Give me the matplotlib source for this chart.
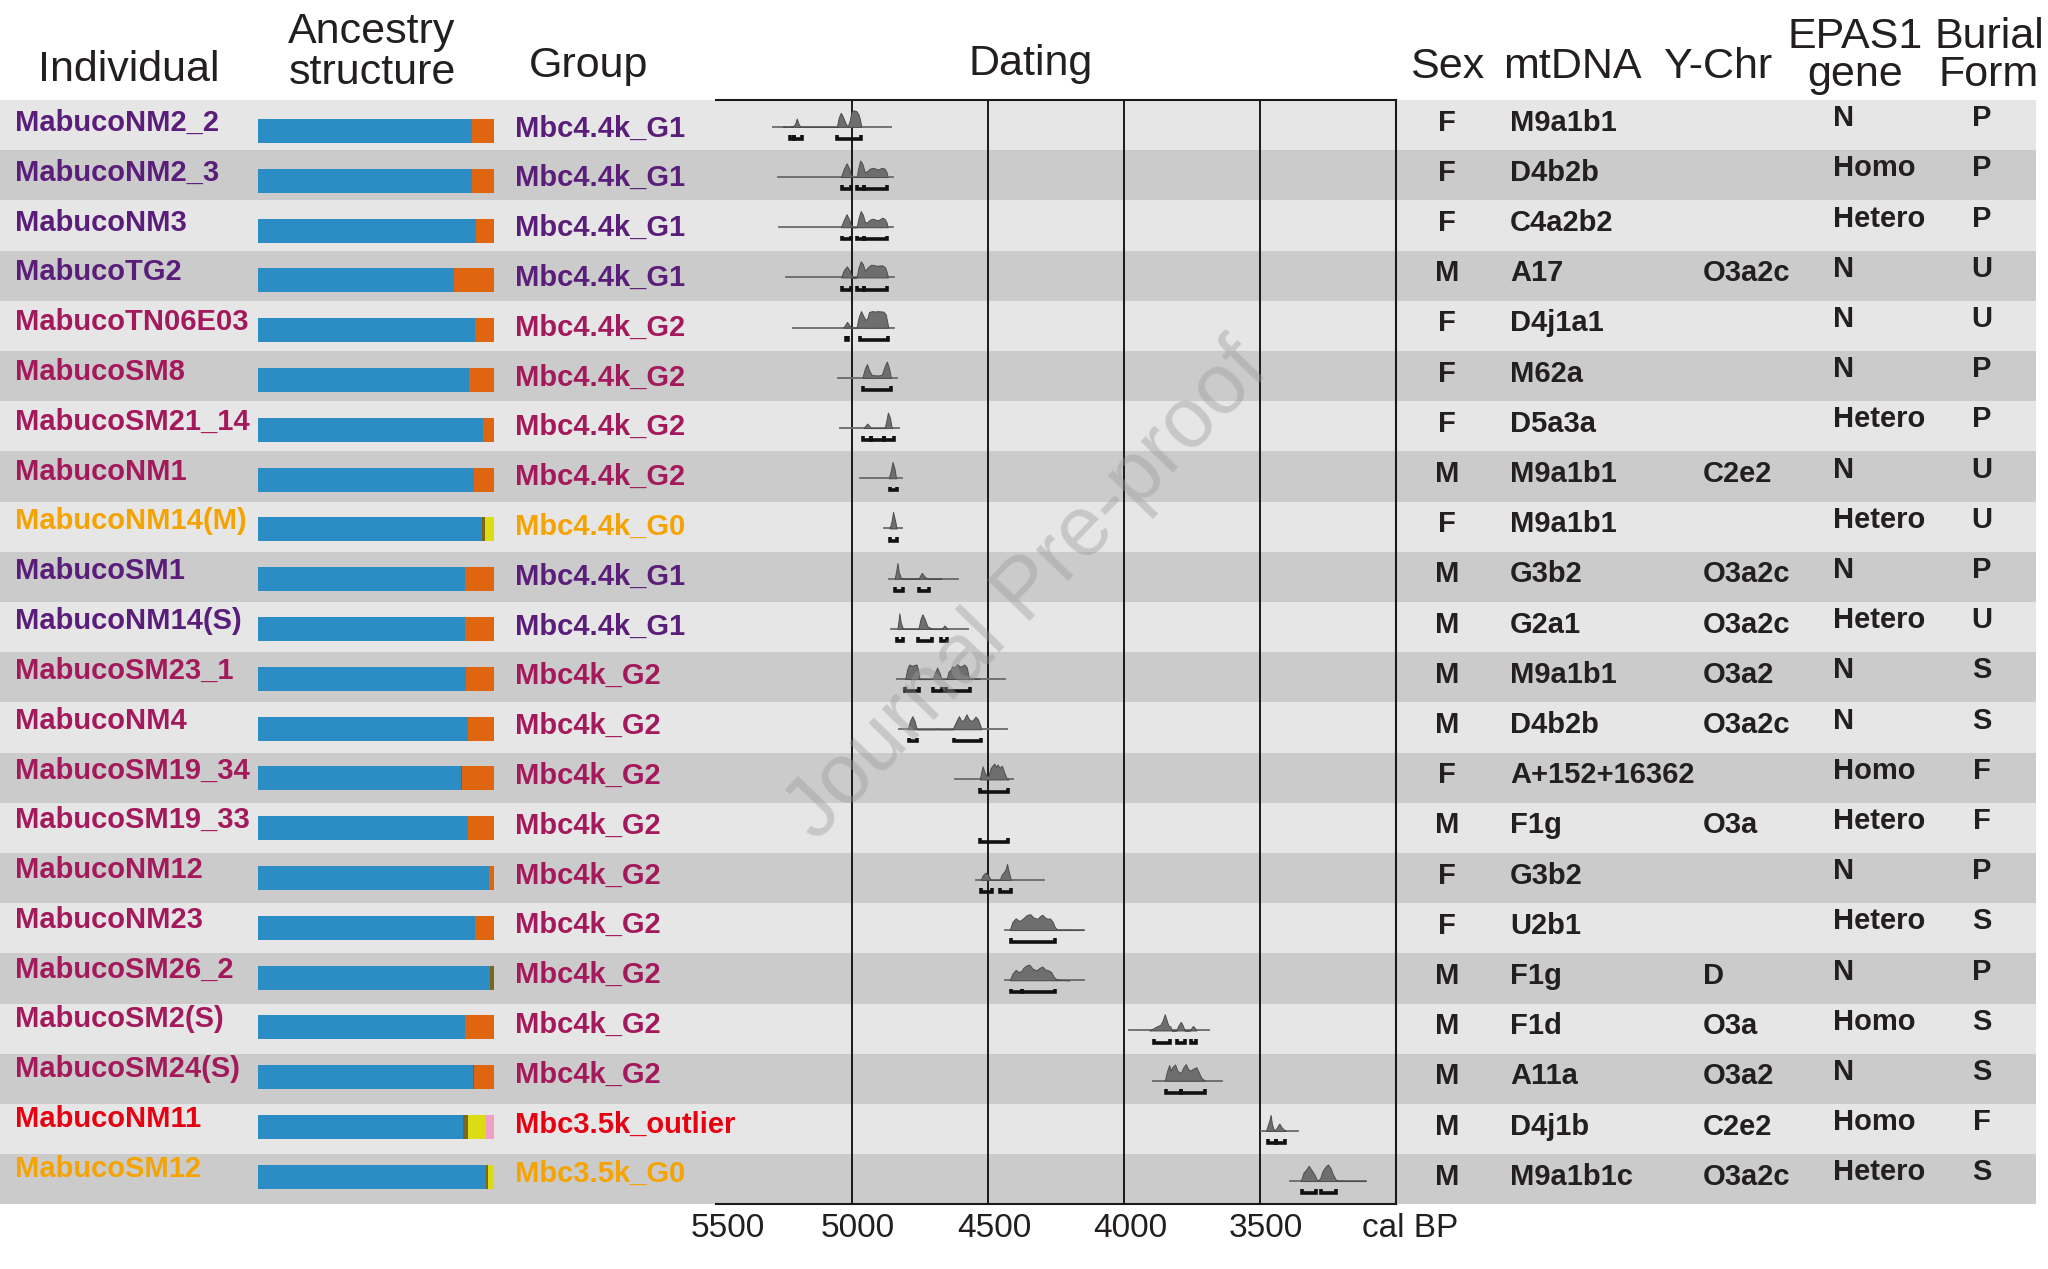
import matplotlib
matplotlib.use("Agg")
import matplotlib.pyplot as plt
from matplotlib import font_manager as fm
from matplotlib.transforms import ScaledTranslation
import numpy as np

# ---------------- data ----------------
individuals = ["MabucoNM2_2", "MabucoNM2_3", "MabucoNM3", "MabucoTG2", "MabucoTN06E03",
               "MabucoSM8", "MabucoSM21_14", "MabucoNM1", "MabucoNM14(M)", "MabucoSM1",
               "MabucoNM14(S)", "MabucoSM23_1", "MabucoNM4", "MabucoSM19_34", "MabucoSM19_33",
               "MabucoNM12", "MabucoNM23", "MabucoSM26_2", "MabucoSM2(S)", "MabucoSM24(S)",
               "MabucoNM11", "MabucoSM12"]
groups = ["Mbc4.4k_G1", "Mbc4.4k_G1", "Mbc4.4k_G1", "Mbc4.4k_G1", "Mbc4.4k_G2",
          "Mbc4.4k_G2", "Mbc4.4k_G2", "Mbc4.4k_G2", "Mbc4.4k_G0", "Mbc4.4k_G1",
          "Mbc4.4k_G1", "Mbc4k_G2", "Mbc4k_G2", "Mbc4k_G2", "Mbc4k_G2",
          "Mbc4k_G2", "Mbc4k_G2", "Mbc4k_G2", "Mbc4k_G2", "Mbc4k_G2",
          "Mbc3.5k_outlier", "Mbc3.5k_G0"]
sex = ["F", "F", "F", "M", "F", "F", "F", "M", "F", "M", "M", "M", "M", "F", "M",
       "F", "F", "M", "M", "M", "M", "M"]
mtdna = ["M9a1b1", "D4b2b", "C4a2b2", "A17", "D4j1a1", "M62a", "D5a3a", "M9a1b1", "M9a1b1",
         "G3b2", "G2a1", "M9a1b1", "D4b2b", "A+152+16362", "F1g", "G3b2", "U2b1", "F1g",
         "F1d", "A11a", "D4j1b", "M9a1b1c"]
ychr = ["", "", "", "O3a2c", "", "", "", "C2e2", "", "O3a2c", "O3a2c", "O3a2", "O3a2c", "",
        "O3a", "", "", "D", "O3a", "O3a2", "C2e2", "O3a2c"]
epas1 = ["N", "Homo", "Hetero", "N", "N", "N", "Hetero", "N", "Hetero", "N", "Hetero", "N",
         "N", "Homo", "Hetero", "N", "Hetero", "N", "Homo", "N", "Homo", "Hetero"]
burial = ["P", "P", "P", "U", "U", "P", "P", "U", "U", "P", "U", "S", "S", "F", "F", "P",
          "S", "P", "S", "S", "F", "S"]

# ancestry proportions (stack order: blue, brown, orange, yellow, pink)
anc_blue   = [.907, .907, .924, .83, .92, .893, .955, .915, .95, .878, .878, .881, .888,
              .861, .89, .98, .92, .985, .876, .91, .87, .967]
anc_brown  = [0, 0, 0, 0, 0, 0, 0, 0, .01, 0, 0, 0, 0, .005, 0, 0, 0, .015, 0, .005, .02, .006]
anc_orange = [.093, .093, .076, .17, .08, .107, .045, .085, 0, .122, .122, .119, .112,
              .134, .11, .02, .08, 0, .124, .085, 0, 0]
anc_yellow = [0, 0, 0, 0, 0, 0, 0, 0, .04, 0, 0, 0, 0, 0, 0, 0, 0, 0, 0, 0, .077, .027]
anc_pink   = [0, 0, 0, 0, 0, 0, 0, 0, 0, 0, 0, 0, 0, 0, 0, 0, 0, 0, 0, 0, .033, 0]

# calibrated date probability curves: (cal BP, relative density)
density_points = [
    [(5255, 0), (5250, .05), (5245, 0), (5230, 0), (5226, .05), (5218, .04), (5210, .15), (5203, .5),
     (5197, .2), (5190, 0), (5135, 0), (5132, .03), (5129, 0), (5056, 0), (5048, .6), (5041, .85),
     (5033, .6), (5022, .15), (5015, .05), (5008, .4), (5002, .9), (4994, 1.0), (4984, .95),
     (4976, .75), (4970, .4), (4966, 0)],
    [(5041, 0), (5030, .5), (5020, .83), (5010, .5), (5002, 0), (4983, 0), (4976, .6), (4970, 1.0),
     (4962, .8), (4953, .3), (4945, .35), (4935, .5), (4924, .56), (4912, .5), (4905, .45),
     (4896, .52), (4888, .56), (4880, .5), (4873, .3), (4869, 0)],
    [(5041, 0), (5030, .45), (5020, .79), (5010, .45), (5002, 0), (4983, 0), (4976, .55), (4968, .98),
     (4960, .75), (4952, .3), (4945, .3), (4935, .45), (4924, .52), (4912, .45), (4905, .42),
     (4896, .5), (4888, .58), (4880, .5), (4873, .3), (4869, 0)],
    [(5040, 0), (5030, .45), (5019, .67), (5008, .4), (5001, 0), (4983, 0), (4976, .6), (4968, .98),
     (4960, .8), (4952, .4), (4943, .6), (4930, .77), (4920, .75), (4910, .7), (4900, .72),
     (4888, .73), (4878, .6), (4872, .3), (4868, 0)],
    [(5032, 0), (5024, .2), (5018, .35), (5012, .2), (5004, 0), (4983, 0), (4976, .6), (4967, 1.0),
     (4958, .7), (4950, .45), (4943, .6), (4937, .95), (4925, 1.0), (4915, .97), (4905, 1.0),
     (4895, .98), (4885, .97), (4876, .8), (4870, .3), (4866, 0)],
    [(4962, 0), (4952, .6), (4945, .83), (4938, .5), (4929, .2), (4915, .15), (4900, .15),
     (4890, .2), (4880, .7), (4872, .98), (4864, .6), (4857, 0)],
    [(4957, 0), (4950, .15), (4944, .27), (4937, .15), (4930, 0), (4880, 0), (4874, .4),
     (4868, .94), (4860, .6), (4855, .1), (4852, 0)],
    [(4865, 0), (4858, .4), (4851, .98), (4844, .6), (4838, 0)],
    [(4862, 0), (4855, .4), (4849, 1.0), (4842, .5), (4836, 0)],
    [(4843, 0), (4837, .5), (4833, .94), (4828, .4), (4820, .05), (4812, 0), (4755, 0), (4749, .2),
     (4743, .35), (4735, .15), (4725, .03), (4718, 0), (4677, 0), (4674, .03), (4671, 0)],
    [(4833, 0), (4828, .6), (4826, .94), (4821, .4), (4815, .1), (4808, 0), (4756, 0), (4748, .6),
     (4741, .88), (4733, .6), (4723, .15), (4710, .05), (4705, 0), (4672, 0), (4665, .1),
     (4660, .2), (4654, .1), (4648, 0)],
    [(4804, 0), (4797, .6), (4790, .88), (4780, .8), (4770, .85), (4763, .88), (4756, .5), (4752, 0),
     (4703, 0), (4695, .4), (4687, .69), (4679, .4), (4671, 0), (4652, 0), (4645, .45),
     (4638, .55), (4632, .77), (4625, .7), (4613, .9), (4603, .75), (4595, .8), (4587, .88),
     (4578, .7), (4572, .2), (4567, .05), (4550, .05), (4535, .03), (4530, 0)],
    [(4795, 0), (4787, .5), (4778, .79), (4770, .5), (4762, 0), (4690, 0), (4687, .05), (4683, 0),
     (4630, 0), (4622, .3), (4613, .6), (4607, .79), (4598, .5), (4590, .55), (4579, .9),
     (4570, .6), (4562, .5), (4553, .6), (4546, .77), (4537, .6), (4528, .2), (4524, 0)],
    [(4530, 0), (4524, .5), (4520, .79), (4514, .5), (4506, .2), (4498, .25), (4490, .7),
     (4477, .96), (4470, .75), (4465, .9), (4457, .7), (4449, .83), (4440, .4), (4432, .1),
     (4425, 0)],
    [],
    [(4527, 0), (4518, .3), (4509, .44), (4500, .3), (4490, 0), (4457, 0), (4450, .3), (4443, .45),
     (4436, .6), (4430, .96), (4424, .5), (4416, 0)],
    [(4420, 0), (4410, .5), (4398, .71), (4390, .6), (4384, .55), (4371, .7), (4358, .9),
     (4345, .96), (4332, .75), (4318, .68), (4308, .85), (4300, .92), (4290, .75), (4280, .68),
     (4273, .71), (4262, .5), (4255, .2), (4246, .03), (4230, .02), (4200, .02), (4170, .01),
     (4150, 0)],
    [(4420, 0), (4410, .4), (4398, .63), (4388, .5), (4378, .55), (4370, .75), (4358, .9),
     (4348, .94), (4336, .7), (4322, .6), (4310, .75), (4300, .83), (4290, .65), (4278, .6),
     (4268, .5), (4258, .2), (4248, .05), (4230, .02), (4200, 0)],
    [(3907, 0), (3895, .1), (3885, .2), (3872, .3), (3866, .35), (3858, .6), (3850, .98),
     (3845, .7), (3837, .3), (3830, .25), (3824, 0), (3808, 0), (3800, .3), (3791, .52),
     (3784, .3), (3777, 0), (3758, 0), (3752, .15), (3746, .27), (3740, .15), (3734, 0)],
    [(3850, 0), (3842, .55), (3834, .94), (3828, .6), (3823, .8), (3812, .98), (3804, .6),
     (3791, .45), (3782, .8), (3773, 1.0), (3764, .7), (3756, .6), (3748, .7), (3734, .81),
     (3725, .5), (3715, .15), (3702, 0)],
    [(3478, 0), (3472, .3), (3466, .6), (3461, .96), (3456, .4), (3450, .1), (3445, .05),
     (3438, .2), (3429, .44), (3420, .2), (3410, .05), (3405, 0)],
    [(3350, 0), (3340, .5), (3330, .7), (3321, .92), (3312, .7), (3300, .4), (3292, .1),
     (3285, .05), (3278, .2), (3270, .6), (3258, .9), (3250, 1.0), (3240, .75), (3232, .4),
     (3222, .1), (3212, .03), (3190, .02), (3150, .01), (3112, 0)],
]
# extent of the thin curve baseline (cal BP)
curve_ranges = [(5290, 4857), (5272, 4849), (5269, 4849), (5241, 4845), (5217, 4845),
                (5052, 4833), (5044, 4829), (4970, 4818), (4882, 4815), (4863, 4611),
                (4857, 4575), (4833, 4437), (4829, 4431), (4620, 4409), None,
                (4545, 4295), (4437, 4148), (4437, 4148), (3982, 3689), (3893, 3639),
                (3496, 3362), (3389, 3112)]
# 95% probability ranges (cal BP)
hpd_ranges = [
    [(5229, 5215), (5212, 5185), (5055, 4967)],
    [(5038, 5004), (4982, 4955), (4955, 4870)],
    [(5038, 5004), (4982, 4955), (4955, 4870)],
    [(5037, 5004), (4982, 4955), (4955, 4870)],
    [(5021, 5015), (4971, 4867)],
    [(4961, 4857)],
    [(4961, 4931), (4931, 4884), (4884, 4845)],
    [(4861, 4836)],
    [(4861, 4833)],
    [(4843, 4811), (4754, 4717)],
    [(4835, 4811), (4757, 4707), (4671, 4650)],
    [(4805, 4754), (4701, 4668), (4654, 4568)],
    [(4790, 4760), (4626, 4526)],
    [(4528, 4425)],
    [(4528, 4425)],
    [(4527, 4487), (4455, 4416)],
    [(4416, 4255)],
    [(4416, 4375), (4375, 4252)],
    [(3889, 3830), (3804, 3775), (3755, 3734)],
    [(3846, 3791), (3791, 3704)],
    [(3470, 3443), (3443, 3407)],
    [(3346, 3293), (3275, 3220)],
]
date_ticks = [5500, 5000, 4500, 4000, 3500]
date_tick_labels = ["5500", "5000", "4500", "4000", "3500"]

# ---------------- style ----------------
names = {f.name for f in fm.fontManager.ttflist}
BASE = "Liberation Sans" if "Liberation Sans" in names else "DejaVu Sans"
NARROW = "Liberation Sans Narrow" if "Liberation Sans Narrow" in names else BASE
plt.rcParams["font.family"] = [BASE, "DejaVu Sans"]

group_colors = {"Mbc4.4k_G1": "#5a1e7a", "Mbc4.4k_G2": "#a3195b", "Mbc4k_G2": "#a3195b",
                "Mbc4.4k_G0": "#f5a300", "Mbc3.5k_G0": "#f5a300", "Mbc3.5k_outlier": "#e60012"}
anc_colors = ["#2b8dc4", "#7d6420", "#e0650f", "#dcdc12", "#f0a0c4"]
band_colors = ["#e6e6e6", "#cbcbcb"]
TXT = "#231f20"

W, H = 2048, 1269
ROW_TOP, ROW_H = 100.0, 50.2
n = len(individuals)
ROW_BOT = ROW_TOP + n * ROW_H

fig = plt.figure(figsize=(W / 100, H / 100), dpi=100)


def px_axes(x0, y0, x1, y1, **kw):
    return fig.add_axes([x0 / W, 1 - y1 / H, (x1 - x0) / W, (y1 - y0) / H], **kw)


# background axes: x in pixels, y in row units
bg = fig.add_axes([0, 0, 1, 1])
bg.set_xlim(0, W)
bg.set_ylim((H - ROW_TOP) / ROW_H, -ROW_TOP / ROW_H)
bg.axis("off")
rows = np.arange(n)
bg.barh(rows + 0.5, 2036, height=1.0, left=0,
        color=[band_colors[i % 2] for i in rows], zorder=0)

# left-column item positions (slightly tighter pitch than the bands)
item_y = (131 - ROW_TOP + rows * 49.8) / ROW_H


def py(p):  # pixel y -> row units
    return (p - ROW_TOP) / ROW_H


# headers
hfs = 31
hdr = dict(fontsize=hfs, color=TXT, ha="center", va="baseline")
bg.text(129, py(81), "Individual", **hdr)
bg.text(372, py(43), "Ancestry", **hdr)
bg.text(372, py(84), "structure", **hdr)
bg.text(589, py(77), "Group", **hdr)
bg.text(1031, py(75), "Dating", **hdr)
bg.text(1447, py(78), "Sex", **hdr)
bg.text(1572, py(78), "mtDNA", **hdr)
bg.text(1718, py(78), "Y-Chr", **hdr)
bg.text(1855, py(48), "EPAS1", **hdr)
bg.text(1855, py(86), "gene", **hdr)
bg.text(1989, py(48), "Burial", **hdr)
bg.text(1989, py(86), "Form", **hdr)

# row texts
rfs = 21
for i in rows:
    c = group_colors[groups[i]]
    bg.text(15, item_y[i], individuals[i], fontsize=rfs, fontweight="bold", color=c,
            ha="left", va="baseline")
    bg.text(515, item_y[i] + 0.11, groups[i], fontsize=rfs, fontweight="bold", color=c,
            ha="left", va="baseline")
    yb = i + 0.61
    bg.text(1447, yb, sex[i], fontsize=rfs, fontweight="bold", color=TXT, ha="center", va="baseline")
    bg.text(1510, yb, mtdna[i], fontsize=rfs, fontweight="bold", color=TXT, ha="left", va="baseline")
    bg.text(1703, yb, ychr[i], fontsize=rfs, fontweight="bold", color=TXT, ha="left", va="baseline")
    bg.text(1833, i + 0.52, epas1[i], fontsize=rfs, fontweight="bold", color=TXT, ha="left", va="baseline")
    bg.text(1982, i + 0.52, burial[i], fontsize=rfs, fontweight="bold", color=TXT, ha="center", va="baseline")

# ancestry bars
anc = px_axes(258, 0, 494, H)
anc.set_xlim(0, 1)
anc.set_ylim(bg.get_ylim())
anc.axis("off")
left = np.zeros(n)
for comp, col in zip([anc_blue, anc_brown, anc_orange, anc_yellow, anc_pink], anc_colors):
    vals = np.array(comp, dtype=float)
    anc.barh(item_y, vals, left=left, height=0.48, color=col, linewidth=0)
    left += vals

# dating panel
dat = px_axes(716, ROW_TOP, 1396, ROW_BOT)
dat.set_facecolor("none")
dat.set_xlim(5500, 3000)
dat.set_ylim(n, 0)
for s in ["top", "right", "bottom"]:
    dat.spines[s].set_linewidth(1.5)
    dat.spines[s].set_color("#1a1a1a")
dat.spines["left"].set_visible(False)
for t in date_ticks[1:]:
    dat.axvline(t, color="#1a1a1a", lw=1.4, zorder=1)

HSCALE = 0.33
for i in rows:
    base = i + 0.535
    if curve_ranges[i] is not None:
        dat.plot(list(curve_ranges[i]), [base, base], color="#6a6a6a", lw=1.3, zorder=2)
    pts = density_points[i]
    if pts:
        yrs = np.array([p[0] for p in pts], dtype=float)
        hs = np.array([p[1] for p in pts], dtype=float)
        dat.fill_between(yrs, base, base - hs * HSCALE, facecolor="#6e6e6e",
                         edgecolor="#4d4d4d", lw=0.7, zorder=3)
    yb, yt = i + 0.775, i + 0.70
    for a, b in hpd_ranges[i]:
        dat.plot([a, a, b, b], [yt, yb, yb, yt], color="#111111", lw=2.6,
                 solid_joinstyle="miter", solid_capstyle="butt", zorder=4)

dat.set_yticks([])
dat.set_xticks(date_ticks + [3000])
dat.set_xticklabels(date_tick_labels + ["cal BP"])
dat.tick_params(axis="x", length=0, pad=6, labelsize=24, labelcolor=TXT)
labs = dat.get_xticklabels()
for k, lab in enumerate(labs):
    lab.set_fontfamily([NARROW, BASE])
    dx = 14 if k == len(labs) - 1 else (12 if k == 0 else 6)
    lab.set_transform(lab.get_transform() + ScaledTranslation(dx / 100, 0, fig.dpi_scale_trans))

# watermark
fig.text(1028 / W, 1 - 592 / H, "Journal Pre-proof", fontsize=61, color="#9a9a9a", alpha=0.4,
         rotation=46, ha="center", va="center", rotation_mode="anchor", zorder=10)

fig.savefig("out.png", dpi=100)
